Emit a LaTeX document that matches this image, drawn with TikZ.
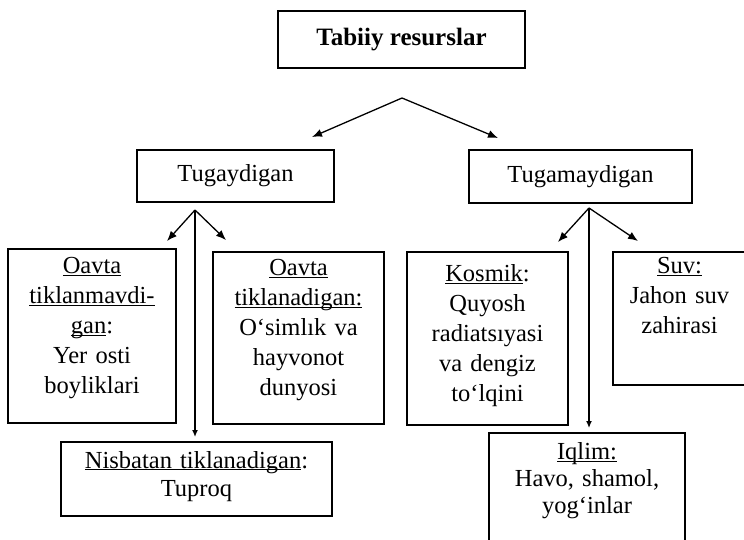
\documentclass[tikz,border=0pt]{standalone}
\usepackage{fontspec}
\setmainfont{Liberation Serif}
\usetikzlibrary{arrows.meta}
\newcommand{\undr}[1]{\underline{\smash{#1}}}
\begin{document}
\begin{tikzpicture}[x=1pt,y=-1pt,line width=1.5pt]
  \tikzstyle{every node}=[draw,rectangle,inner sep=0pt,align=center,font=\fontsize{24.5}{30}\selectfont]
  \tikzstyle{link}=[-{Latex[length=10pt,width=8pt]},line width=1.3pt]
  \tikzstyle{drop}=[-{Latex[length=7pt,width=6pt]},line width=1.3pt]
  \useasboundingbox (0,0) rectangle (744,539);
  \clip (0,0) rectangle (744,539);
  % top and second level
  \node[minimum width=247pt,minimum height=57pt,font=\fontsize{25}{30}\selectfont\bfseries] (root) at (401.5,39.5) {Tabiiy resurslar};
  \node[minimum width=197pt,minimum height=52pt] (tug) at (235.5,176) {Tugaydigan};
  \node[minimum width=223pt,minimum height=53pt] (tugm) at (580.5,176.5) {Tugamaydigan};
  % leaves of Tugaydigan
  \node[text width=168pt,minimum height=174pt] (nonrenew) at (92,336)
    {\undr{Oavta}\\\undr{tiklanmavdi-}\\\undr{gan}:\\Yer osti\\boyliklari};
  \node[text width=171pt,minimum height=172pt] (renew) at (298.5,338)
    {\undr{Oavta}\\\undr{tiklanadigan:}\\O‘simlık va\\hayvonot\\dunyosi};
  \node[text width=271pt,minimum height=74pt,font=\fontsize{24.5}{28}\selectfont] (soil) at (196.5,479)
    {\undr{Nisbatan tiklanadigan}:\\Tuproq};
  % leaves of Tugamaydigan
  \node[text width=161pt,minimum height=173pt] (cosmic) at (487.5,338.5)
    {\undr{Kosmik}:\\Quyosh\\radiatsıyasi\\va dengiz\\to‘lqini};
  \node[text width=133pt,minimum height=133pt] (water) at (679.5,318.5)
    {\undr{Suv:}\\Jahon suv\\zahirasi\\\mbox{}};
  \node[text width=196pt,minimum height=113pt,font=\fontsize{24.5}{27}\selectfont] (climate) at (587,489.5)
    {\undr{Iqlim:}\\Havo, shamol,\\yog‘inlar};
  % forks and arrow ends
  \coordinate (topfork) at (402,98);
  \coordinate (tugtip) at (312,137);
  \coordinate (tugmtip) at (498,138);
  \coordinate (tugfork) at (195,210);
  \coordinate (nonrenewtip) at (167,241);
  \coordinate (renewtip) at (226,240);
  \coordinate (soiltip) at (195,437);
  \coordinate (tugmfork) at (589,208);
  \coordinate (cosmictip) at (558,242);
  \coordinate (watertip) at (638,241);
  \coordinate (climatetip) at (589,428);
  \draw[link] (topfork) -- (tugtip);
  \draw[link] (topfork) -- (tugmtip);
  \draw[link] (tugfork) -- (nonrenewtip);
  \draw[link] (tugfork) -- (renewtip);
  \draw[drop] (tugfork) -- (soiltip);
  \draw[link] (tugmfork) -- (cosmictip);
  \draw[link] (tugmfork) -- (watertip);
  \draw[drop] (tugmfork) -- (climatetip);
\end{tikzpicture}
\end{document}
